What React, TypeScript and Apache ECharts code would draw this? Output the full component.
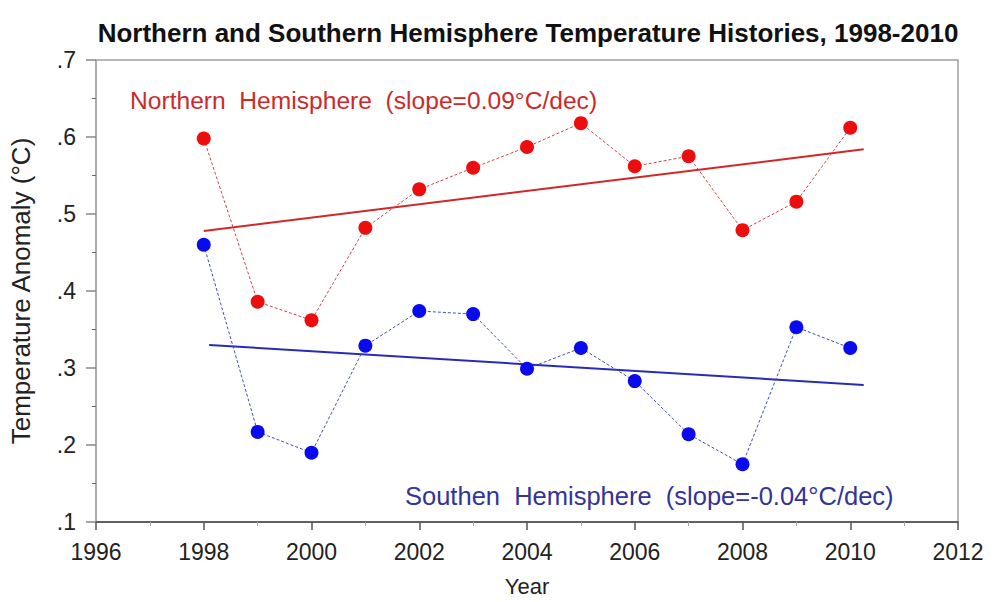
import React, { useEffect, useRef } from "react";
import * as echarts from "echarts";

const years = [1998, 1999, 2000, 2001, 2002, 2003, 2004, 2005, 2006, 2007, 2008, 2009, 2010];
const northValues = [0.598, 0.386, 0.362, 0.482, 0.532, 0.56, 0.587, 0.618, 0.562, 0.575, 0.479, 0.516, 0.612];
const southValues = [0.46, 0.217, 0.19, 0.329, 0.374, 0.37, 0.299, 0.326, 0.283, 0.214, 0.175, 0.353, 0.326];
const northTrend: [number, number][] = [[1998, 0.478], [2010.25, 0.584]];
const southTrend: [number, number][] = [[1998.1, 0.33], [2010.25, 0.278]];

const titleText = "Northern and Southern Hemisphere Temperature Histories, 1998-2010";
const northLabel = "Northern  Hemisphere  (slope=0.09°C/dec)";
const southLabel = "Southen  Hemisphere  (slope=-0.04°C/dec)";
const xName = "Year";
const yName = "Temperature Anomaly (°C)";

const FONT = "'Liberation Sans', Arial, sans-serif";

export default function App() {
  const ref = useRef<HTMLDivElement>(null);
  useEffect(() => {
    document.body.style.margin = "0";
    if (!ref.current) return;
    const chart = echarts.init(ref.current, null, { renderer: "svg" });
    const north = years.map((y, i) => [y, northValues[i]]);
    const south = years.map((y, i) => [y, southValues[i]]);
    chart.setOption({
      animation: false,
      backgroundColor: "#ffffff",
      grid: {
        left: 94,
        right: 36,
        top: 60,
        bottom: 80,
        show: true,
        borderColor: "#a0a0a0",
        borderWidth: 1.5,
        containLabel: false,
      },
      graphic: [
        {
          type: "text",
          x: 528,
          y: 33,
          style: {
            text: titleText,
            font: `bold 26px ${FONT}`,
            fill: "#111",
            align: "center",
            verticalAlign: "middle",
          },
        },
        {
          type: "text",
          x: 130,
          y: 100,
          style: {
            text: northLabel,
            font: `24.6px ${FONT}`,
            fill: "#cc2a2a",
            align: "left",
            verticalAlign: "middle",
          },
        },
        {
          type: "text",
          x: 405,
          y: 496,
          style: {
            text: southLabel,
            font: `25.5px ${FONT}`,
            fill: "#333399",
            align: "left",
            verticalAlign: "middle",
          },
        },
      ],
      xAxis: {
        type: "value",
        min: 1996,
        max: 2012,
        interval: 2,
        name: xName,
        nameLocation: "middle",
        nameGap: 53,
        nameTextStyle: { fontSize: 22, color: "#222", fontFamily: FONT },
        axisLine: { show: true, lineStyle: { color: "#444", width: 1.5 } },
        axisTick: { show: true, length: 8, lineStyle: { color: "#555", width: 1.5 } },
        minorTick: { show: true, splitNumber: 2, length: 4, lineStyle: { color: "#aaa" } },
        splitLine: { show: false },
        axisLabel: {
          fontSize: 23,
          color: "#222",
          fontFamily: FONT,
          margin: 18,
          formatter: (v: number) => String(Math.round(v)),
        },
      },
      yAxis: {
        type: "value",
        min: 0.1,
        max: 0.7,
        interval: 0.1,
        name: yName,
        nameLocation: "middle",
        nameGap: 62,
        nameTextStyle: { fontSize: 26, color: "#222", fontFamily: FONT },
        axisLine: { show: true, lineStyle: { color: "#aaa", width: 1.5 } },
        axisTick: { show: true, length: 10, lineStyle: { color: "#888", width: 1.5 } },
        minorTick: { show: true, splitNumber: 2, length: 4, lineStyle: { color: "#666" } },
        splitLine: { show: false },
        axisLabel: {
          fontSize: 23,
          color: "#222",
          fontFamily: FONT,
          margin: 20,
          formatter: (v: number) => v.toFixed(1).replace(/^0/, ""),
        },
      },
      series: [
        {
          type: "line",
          data: north,
          symbol: "circle",
          symbolSize: 14,
          itemStyle: { color: "#ee0d0d" },
          lineStyle: { color: "#c84848", width: 1, type: [3, 2] },
          z: 3,
        },
        {
          type: "line",
          data: northTrend,
          symbol: "none",
          lineStyle: { color: "#d02828", width: 2 },
          z: 2,
        },
        {
          type: "line",
          data: south,
          symbol: "circle",
          symbolSize: 14,
          itemStyle: { color: "#0a0aee" },
          lineStyle: { color: "#4050b0", width: 1, type: [3, 2] },
          z: 3,
        },
        {
          type: "line",
          data: southTrend,
          symbol: "none",
          lineStyle: { color: "#2a2ab8", width: 2 },
          z: 2,
        },
      ],
    });
    return () => chart.dispose();
  }, []);
  return <div ref={ref} style={{ width: 994, height: 602 }} />;
}
